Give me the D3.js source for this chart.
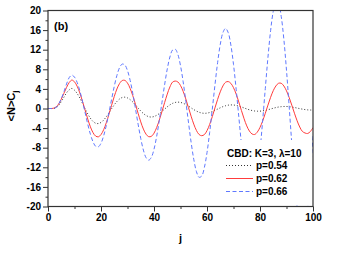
<!DOCTYPE html>
<html>
<head>
<meta charset="utf-8">
<script src="https://cdn.jsdelivr.net/npm/d3@7"></script>
<style>
body { margin: 0; background: #fff; }
svg text { font-family: "Liberation Sans", Arial, sans-serif; font-weight: bold; fill: #000; }
</style>
</head>
<body>
<svg id="chart" width="344" height="262"></svg>
<script>
// j = 0..100
var jIndex = d3.range(0, 101);

var p054 = [0,0,0,0.15,0.6,1.4,2.3,3.2,3.8,4.09,
  3.74,3.06,2.14,1.06,-0.06,-1.1,-1.99,-2.64,-3.01,-3.07,
  -2.85,-2.36,-1.68,-0.88,-0.04,0.75,1.43,1.94,2.24,2.31,
  2.16,1.81,1.32,0.72,0.09,-0.51,-1.03,-1.42,-1.67,-1.74,
  -1.64,-1.39,-1.03,-0.59,-0.12,0.34,0.74,1.05,1.24,1.3,
  1.24,1.07,0.8,0.48,0.13,-0.22,-0.52,-0.76,-0.92,-0.98,
  -0.94,-0.82,-0.63,-0.38,-0.12,0.14,0.38,0.56,0.68,0.73,
  0.71,0.63,0.48,0.31,0.11,-0.09,-0.27,-0.41,-0.51,-0.55,
  -0.54,-0.48,-0.37,-0.25,-0.1,0.05,0.19,0.3,0.37,0.41,
  0.41,0.37,0.29,0.2,0.09,-0.03,-0.13,-0.22,-0.28,-0.31,-0.31];

var p062 = [0,0,0.05,0.3,0.9,1.9,3.1,4.3,5.3,5.8,
  5.44,4.54,3.18,1.49,-0.34,-2.15,-3.74,-4.94,-5.64,-5.78,
  -5.32,-4.33,-2.9,-1.18,0.67,2.45,3.98,5.1,5.71,5.74,
  5.19,4.09,2.61,0.87,-0.98,-2.73,-4.2,-5.24,-5.75,-5.68,
  -5.04,-3.89,-2.38,-0.63,1.2,2.93,4.4,5.38,5.6,5.42,
  4.7,3.5,1.95,0.2,-1.57,-3.18,-4.47,-5.3,-5.55,-5.33,
  -4.52,-3.25,-1.66,0.12,1.85,3.4,4.6,5.35,5.5,5.13,
  4.25,2.94,1.33,-0.42,-2.1,-3.55,-4.6,-5.2,-5.3,-4.8,
  -3.85,-2.55,-0.98,0.69,2.28,3.64,4.6,5.15,5.15,4.6,
  3.6,2.25,0.68,-0.96,-2.5,-3.78,-4.68,-5.0,-5.1,-4.7,-3.9];

var p066 = [0,0,0,0.2,0.9,2.0,3.4,5.0,6.3,6.81,
  6.4,5.32,3.63,1.49,-0.86,-3.19,-5.25,-6.82,-7.72,-7.82,
  -7.09,-5.58,-3.44,-0.87,1.88,4.51,6.74,8.33,9.07,8.88,
  7.73,5.73,3.06,-0.02,-3.19,-6.11,-8.49,-10.03,-10.55,-9.96,
  -8.31,-5.7,-2.42,1.21,4.83,8.05,10.51,11.93,12.12,11.04,
  8.75,5.45,1.47,-2.78,-6.87,-10.35,-12.85,-14.04,-13.78,-12.06,
  -9.01,-4.89,-0.13,4.79,9.35,13.05,15.48,16.34,15.49,12.97,
  9.0,3.94,-1.69,-7.3,-12.34,-16.18,-18.45,-18.81,-17.19,-13.68,
  -8.64,-2.5,4.08,10.43,15.87,19.8,21.71,21.4,18.81,14.13,
  7.79,0.45,-7.18,-14.25,-20.05,-23.89,-25.29,-24.09,-20.25,-13.5,-5.5];

var xTicks = [0, 20, 40, 60, 80, 100];
var xMinor = [10, 30, 50, 70, 90];
var yTicks = [-20, -16, -12, -8, -4, 0, 4, 8, 12, 16, 20];
var yMinor = [-18, -14, -10, -6, -2, 2, 6, 10, 14, 18];

var seriesNames = ["p=0.54", "p=0.62", "p=0.66"];
var seriesData = [p054, p062, p066];
var seriesColor = ["#333333", "#ff3c3c", "#5f78ff"];
var seriesDash = ["1,2", null, "4,2.5"];

var svg = d3.select("#chart");
var pL = 48, pR = 313, pT = 10.5, pB = 206.5;

var x = d3.scaleLinear().domain([0, 100]).range([pL, pR]);
var y = d3.scaleLinear().domain([-20, 20]).range([pB, pT]);

svg.append("clipPath").attr("id", "clip")
  .append("rect").attr("x", pL).attr("y", pT)
  .attr("width", pR - pL).attr("height", pB - pT);

var line = d3.line()
  .x(function(d, i) { return x(jIndex[i]); })
  .y(function(d) { return y(d); })
  .curve(d3.curveCatmullRom);

var g = svg.append("g").attr("clip-path", "url(#clip)");
seriesData.forEach(function(s, k) {
  g.append("path")
    .attr("d", line(s))
    .attr("fill", "none")
    .attr("stroke", seriesColor[k])
    .attr("stroke-width", 1)
    .attr("stroke-dasharray", seriesDash[k]);
});

// axes
svg.append("g").attr("transform", "translate(" + pL + ",0)")
  .call(d3.axisLeft(y).tickValues(yTicks).tickSize(5).tickPadding(2)
    .tickFormat(function(d) { return String(d); }));
svg.append("g").attr("transform", "translate(" + pL + ",0)")
  .call(d3.axisLeft(y).tickValues(yMinor).tickSize(2.5).tickFormat(""));

svg.append("g").attr("transform", "translate(0," + pB + ")")
  .call(d3.axisBottom(x).tickValues(xTicks).tickSize(5).tickPadding(2)
    .tickFormat(function(d) { return String(d); }));
svg.append("g").attr("transform", "translate(0," + pB + ")")
  .call(d3.axisBottom(x).tickValues(xMinor).tickSize(2.5).tickFormat(""));

svg.selectAll(".domain").remove();
svg.selectAll(".tick line").attr("stroke", "#333");
svg.selectAll(".tick text").style("font-size", "10px").style("font-weight", "bold")
  .style("font-family", "'Liberation Sans', Arial, sans-serif");

// legend box (white, covers curves)
svg.append("rect").attr("x", 222).attr("y", 140)
  .attr("width", pR - 222 - 1).attr("height", pB - 140 - 1)
  .attr("fill", "#fff");

svg.append("text").attr("x", 227).attr("y", 157).style("font-size", "10px")
  .text("CBD: K=3, \u03bb=10");

seriesNames.forEach(function(name, k) {
  var ly = 165.5 + k * 13;
  svg.append("line").attr("x1", 226).attr("x2", 253)
    .attr("y1", ly).attr("y2", ly)
    .attr("stroke", seriesColor[k]).attr("stroke-width", 1)
    .attr("stroke-dasharray", seriesDash[k]);
  svg.append("text").attr("x", 256).attr("y", ly + 3.8).style("font-size", "10px")
    .text(name);
});

// frame
svg.append("rect").attr("x", pL).attr("y", pT)
  .attr("width", pR - pL).attr("height", pB - pT)
  .attr("fill", "none").attr("stroke", "#333").attr("stroke-width", 1.2);

svg.append("text").attr("x", 54).attr("y", 30).style("font-size", "11px").text("(b)");

svg.append("text").attr("x", x(50)).attr("y", 242).attr("text-anchor", "middle")
  .style("font-size", "11px").text("j");

var yl = svg.append("text").attr("transform", "translate(15,106) rotate(-90)")
  .attr("text-anchor", "middle").style("font-size", "11px");
yl.append("tspan").text("<N>C");
yl.append("tspan").attr("dy", 3).style("font-size", "8px").text("j");
</script>
</body>
</html>
